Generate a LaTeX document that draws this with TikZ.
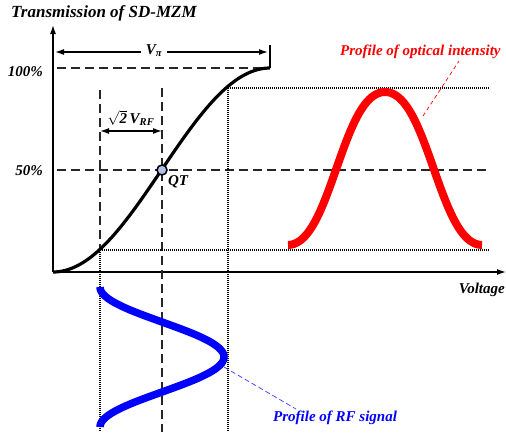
\documentclass[tikz,border=0pt]{standalone}
\usepackage{fontspec}
\setmainfont{Liberation Serif}
\usetikzlibrary{arrows.meta}
\definecolor{qtfill}{RGB}{175,195,230}
\begin{document}
\begin{tikzpicture}[x=1pt,y=-1pt,
  lbl/.style={font=\fontsize{15}{17}\selectfont\bfseries\itshape, inner sep=0pt},
  axisln/.style={line width=1.4pt, -{Latex[length=9pt,width=6pt]}},
  dashln/.style={line width=1.2pt, dash pattern=on 9pt off 5pt, black!85},
  dotln/.style={line width=1.2pt, dash pattern=on 1pt off 1pt},
  dimln/.style={line width=1.4pt, {Latex[length=9pt,width=6pt]}-{Latex[length=9pt,width=6pt]}}]
\useasboundingbox (0,0) rectangle (506,432);
\fill[white] (0,0) rectangle (506,432);
% coordinates
\coordinate (O) at (53,272);
\coordinate (ytop) at (53,25);
\coordinate (xend) at (506,272);
\coordinate (vpiL) at (55,52);
\coordinate (vpiR) at (268,52);
\coordinate (tickT) at (270,45);
\coordinate (tickB) at (270,68);
\coordinate (hundL) at (57,68);
\coordinate (hundR) at (266,68);
\coordinate (fiftyL) at (57,170);
\coordinate (fiftyR) at (490,170);
\coordinate (v1top) at (100,90);
\coordinate (v1mid) at (100,250);
\coordinate (v1bot) at (100,432);
\coordinate (v2top) at (162,88);
\coordinate (v2bot) at (162,432);
\coordinate (v3top) at (228,88);
\coordinate (v3bot) at (228,432);
\coordinate (hiR) at (490,88);
\coordinate (loR) at (490,250);
\coordinate (rfL) at (100,131);
\coordinate (rfR) at (162,131);
\coordinate (optA) at (423,116);
\coordinate (optB) at (459,61);
\coordinate (rfsA) at (224,367);
\coordinate (rfsB) at (296,409);
% axes
\draw[axisln] (O) -- (ytop);
\draw[axisln] (O) -- (xend);
% grid lines
\draw[dashln] (hundL) -- (hundR);
\draw[line width=1.4pt] (tickT) -- (tickB);
\draw[dashln] (fiftyL) -- (fiftyR);
\draw[dashln] (v1top) -- (v1mid);
\draw[dotln] (v1mid) -- (v1bot);
\draw[dashln] (v2top) -- (v2bot);
\draw[dotln] (v3top) -- (v3bot);
\draw[dotln] (v3top) -- (hiR);
\draw[dotln] (v1mid) -- (loR);
% dimension arrows
\draw[dimln] (vpiL) -- (vpiR);
\node[lbl, fill=white, inner xsep=5pt, inner ysep=2pt] (vpi) at (154,51) {V\textsubscript{π}};
\draw[dimln] (rfL) -- (rfR);
\node[lbl] (vrf) at (131,118) {$\sqrt{\mbox{2}}$\,V\textsubscript{RF}};
% transfer curve
\draw[line width=3.2pt] plot[domain=53:270, samples=90, smooth] (\x,{272-204*sin(0.41475*(\x-53))*sin(0.41475*(\x-53))});
% optical intensity
\draw[red, line width=8pt] plot[domain=0:194, samples=120, smooth, variable=\t]
  ({288+\t},{245-195.65*(sin(0.41475*(109-62*cos(1.85567*\t)))*sin(0.41475*(109-62*cos(1.85567*\t)))-0.111)});
% RF signal
\draw[blue, line width=7.5pt] plot[domain=287:427, samples=120, smooth, variable=\t]
  ({162-62*cos(2.571429*(\t-287))},\t);
% QT point
\node[circle, draw, line width=1.5pt, fill=qtfill, minimum size=10pt, inner sep=0pt] (qt) at (162,170) {};
\node[lbl] (qtl) at (178,182) {QT};
% leaders
\draw[red, line width=0.7pt, dash pattern=on 4pt off 3pt] (optA) -- (optB);
\draw[blue!70, line width=0.8pt, dash pattern=on 5pt off 3pt] (rfsA) -- (rfsB);
% labels
\node[lbl, font=\fontsize{17}{19}\selectfont\bfseries\itshape, anchor=west] (title) at (11,13) {Transmission of SD-MZM};
\node[lbl, anchor=east] (l100) at (43,72) {100\%};
\node[lbl, anchor=east] (l50) at (43,171) {50\%};
\node[lbl, anchor=east] (volt) at (505,290) {Voltage};
\node[lbl, red, anchor=west] (optl) at (340,52) {Profile of optical intensity};
\node[lbl, blue, anchor=west] (rfl) at (273,418) {Profile of RF signal};
\end{tikzpicture}
\end{document}
